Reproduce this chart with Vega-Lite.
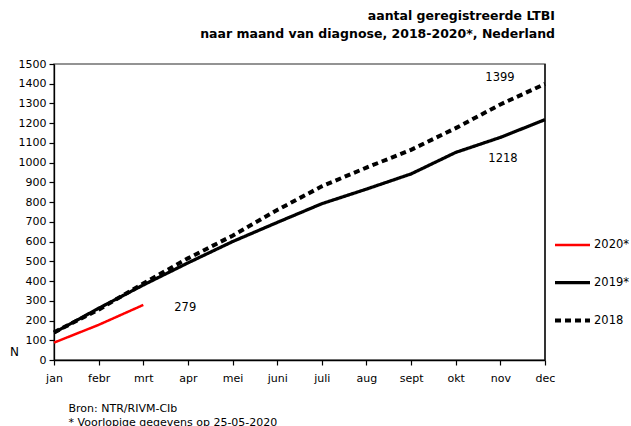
{
  "$schema": "https://vega.github.io/schema/vega-lite/v6.json",
  "autosize": {"type": "none"},
  "width": 491,
  "height": 296,
  "padding": {"left": 54, "top": 64, "right": 86, "bottom": 66},
  "background": "white",
  "config": {
    "font": "DejaVu Sans",
    "view": {"stroke": "#707070", "strokeWidth": 1.5},
    "axis": {"labelFont": "DejaVu Sans", "titleFont": "DejaVu Sans", "labelColor": "#000", "domainColor": "#000", "tickColor": "#000", "grid": false, "labelFontSize": 11, "labelOverlap": false, "domainWidth": 1.3, "tickWidth": 1.2}
  },
  "title": {
    "text": ["aantal geregistreerde LTBI", "naar maand van diagnose, 2018-2020*, Nederland"],
    "anchor": "end",
    "frame": "group",
    "dx": 10,
    "offset": 18,
    "fontSize": 12.5,
    "fontWeight": "bold",
    "font": "DejaVu Sans",
    "color": "#000",
    "lineHeight": 18
  },
  "datasets": {
    "series": [
      {"month": "jan", "serie": "2020*", "n": 88},
      {"month": "febr", "serie": "2020*", "n": 178},
      {"month": "mrt", "serie": "2020*", "n": 279},
      {"month": "jan", "serie": "2019*", "n": 138},
      {"month": "febr", "serie": "2019*", "n": 262},
      {"month": "mrt", "serie": "2019*", "n": 380},
      {"month": "apr", "serie": "2019*", "n": 492},
      {"month": "mei", "serie": "2019*", "n": 600},
      {"month": "juni", "serie": "2019*", "n": 697},
      {"month": "juli", "serie": "2019*", "n": 792},
      {"month": "aug", "serie": "2019*", "n": 866},
      {"month": "sept", "serie": "2019*", "n": 943},
      {"month": "okt", "serie": "2019*", "n": 1052},
      {"month": "nov", "serie": "2019*", "n": 1128},
      {"month": "dec", "serie": "2019*", "n": 1218},
      {"month": "jan", "serie": "2018", "n": 140},
      {"month": "febr", "serie": "2018", "n": 255},
      {"month": "mrt", "serie": "2018", "n": 388},
      {"month": "apr", "serie": "2018", "n": 515},
      {"month": "mei", "serie": "2018", "n": 630},
      {"month": "juni", "serie": "2018", "n": 760},
      {"month": "juli", "serie": "2018", "n": 880},
      {"month": "aug", "serie": "2018", "n": 975},
      {"month": "sept", "serie": "2018", "n": 1065},
      {"month": "okt", "serie": "2018", "n": 1175},
      {"month": "nov", "serie": "2018", "n": 1295},
      {"month": "dec", "serie": "2018", "n": 1399}
    ],
    "labels": [
      {"month": "nov", "label": "1399", "yv": 1427, "shift": -15},
      {"month": "nov", "label": "1218", "yv": 1020, "shift": -12},
      {"month": "mrt", "label": "279", "yv": 262, "shift": 31}
    ],
    "frame": [
      {"top": 1500, "right": "dec", "bottom": 0, "left": "jan"}
    ]
  },
  "encoding": {
    "x": {
      "type": "ordinal",
      "scale": {"type": "point", "padding": 0, "domain": ["jan", "febr", "mrt", "apr", "mei", "juni", "juli", "aug", "sept", "okt", "nov", "dec"]},
      "axis": {
        "labelAngle": 0,
        "labelPadding": 7,
        "tickSize": 5,
        "ticks": true,
        "title": ["Bron: NTR/RIVM-CIb", "* Voorlopige gegevens op 25-05-2020"],
        "titleAnchor": "start",
        "titleAlign": "left",
        "titleBaseline": "alphabetic",
        "titleX": 14,
        "titleY": 51,
        "titleFontSize": 11,
        "titleFontWeight": "normal",
        "titleColor": "#000",
        "titleLineHeight": 14
      }
    },
    "y": {
      "type": "quantitative",
      "scale": {"domain": [0, 1500], "nice": false, "zero": true},
      "axis": {
        "values": [0,100,200,300,400,500,600,700,800,900,1000,1100,1200,1300,1400,1500],
        "labelOverlap": false,
        "format": "d",
        "tickSize": 5,
        "labelPadding": 3,
        "title": "N",
        "titleAngle": 0,
        "titleX": -40,
        "titleY": 294,
        "titleFontSize": 12,
        "titleFontWeight": "normal",
        "titleColor": "#000"
      }
    }
  },
  "layer": [
    {
      "data": {"name": "series"},
      "mark": {"type": "line", "strokeCap": "butt"},
      "encoding": {
        "x": {"field": "month"},
        "y": {"field": "n"},
        "color": {
          "field": "serie", "type": "nominal",
          "scale": {"domain": ["2020*", "2019*", "2018"], "range": ["#ff0000", "#000000", "#000000"]},
          "legend": {
            "title": null,
            "orient": "none",
            "legendX": 499,
            "legendY": 162,
            "symbolType": "stroke",
            "symbolSize": 1225,
            "rowPadding": 12,
            "labelFontSize": 11.5,
            "labelColor": "#000",
            "labelFont": "DejaVu Sans",
            "labelOffset": 2
          }
        },
        "strokeDash": {
          "field": "serie", "type": "nominal",
          "scale": {"domain": ["2020*", "2019*", "2018"], "range": [[1, 0], [1, 0], [6, 4]]}
        },
        "strokeWidth": {
          "field": "serie", "type": "nominal",
          "scale": {"domain": ["2020*", "2019*", "2018"], "range": [2.5, 4, 2.5]}
        }
      }
    },
    {
      "data": {"name": "frame"},
      "mark": {"type": "rule", "color": "#000", "strokeWidth": 1.3},
      "encoding": {
        "x": {"field": "right"},
        "y": {"field": "bottom"},
        "y2": {"field": "top"}
      }
    },
    {
      "data": {"name": "labels"},
      "mark": {"type": "text", "fontSize": 11.5, "font": "DejaVu Sans", "color": "#000", "align": "left", "baseline": "middle"},
      "encoding": {
        "x": {"field": "month"},
        "y": {"field": "yv"},
        "text": {"field": "label"},
        "xOffset": {"field": "shift", "type": "quantitative", "scale": null}
      }
    }
  ]
}
